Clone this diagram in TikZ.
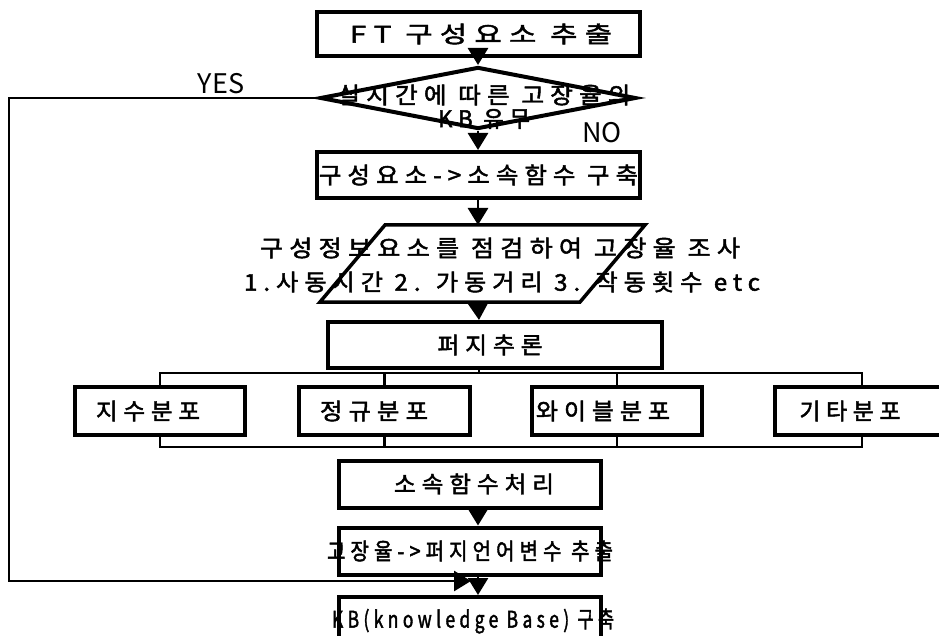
\documentclass[tikz,border=0pt]{standalone}
\usepackage{fontspec}
\usepackage{graphicx}
\newfontfamily\kr[LetterSpace=25,FakeBold=2]{Noto Sans CJK KR}
\newfontfamily\krL{Noto Sans CJK KR}
\newcommand\fitw[2]{\resizebox{#1}{\height}{#2}}
\usetikzlibrary{arrows.meta,shapes.geometric}
\begin{document}
\begin{tikzpicture}[x=1pt,y=-1pt,
  box/.style={draw,line width=4pt,rectangle,inner sep=0pt,font=\kr\fontsize{23}{25}\selectfont},
  txt/.style={inner sep=0pt,font=\kr\fontsize{23}{25}\selectfont},
  conn/.style={line width=2.8pt},
  arr/.style={conn,-{Triangle[length=17pt,width=20pt]}},
  lbl/.style={inner sep=0pt,font=\krL\fontsize{27}{30}\selectfont}]
\useasboundingbox (0,0) rectangle (939,636);
% top box
\node[box,minimum width=323pt,minimum height=44pt] (ft) at (478.5,34) {};
\node[txt] (ftt) at (481,34) {\fitw{262pt}{FT 구성요소 추출}};
% decision
\node[diamond,draw,line width=4pt,inner sep=0pt,minimum width=316pt,minimum height=62pt] (dec) at (478,98) {};
\node[txt] (dect1) at (484,95) {\fitw{293pt}{실시간에 따른 고장율의}};
\node[txt] (dect2) at (484,119) {\fitw{92pt}{KB 유무}};
\node[lbl] (yes) at (221,84) {YES};
\node[lbl] (no) at (602,133) {NO};
% box 2
\node[box,minimum width=323pt,minimum height=46pt] (b2) at (478.5,175) {};
\node[txt] (b2t) at (478.5,175) {\fitw{319pt}{구성요소->소속함수 구축}};
% parallelogram
\coordinate (pTL) at (385,225);
\coordinate (pTR) at (645,225);
\coordinate (pBR) at (580,302);
\coordinate (pBL) at (320,302);
\coordinate (pTop) at (478,225);
\coordinate (pBot) at (478,302);
\draw[line width=3.5pt,line join=miter] (pTL) -- (pTR) -- (pBR) -- (pBL) -- cycle;
\node[txt] (pt1) at (500,248) {\fitw{480pt}{구성정보요소를 점검하여 고장율 조사}};
\node[txt] (pt2) at (502,282) {\fitw{516pt}{1.사동시간 2. 가동거리 3. 작동횟수 etc}};
% fuzzy inference
\node[box,minimum width=334pt,minimum height=46pt] (fz) at (495,345) {};
\node[txt] (fzt) at (490,345) {\fitw{105pt}{퍼지추론}};
\coordinate (fzj) at (479,368);
\coordinate (busT) at (0,373);
\coordinate (busB) at (0,447);
% distributions
\node[box,minimum width=170pt,minimum height=48pt] (d1) at (160,411) {};
\node[txt] (d1t) at (148,411) {\fitw{104pt}{지수분포}};
\node[box,minimum width=171pt,minimum height=48pt] (d2) at (384.5,411) {};
\node[txt] (d2t) at (374,411) {\fitw{108pt}{정규분포}};
\node[box,minimum width=170pt,minimum height=48pt] (d3) at (617,411) {};
\node[txt] (d3t) at (603,411) {\fitw{134pt}{와이블분포}};
\node[box,minimum width=174pt,minimum height=48pt] (d4) at (862,411) {};
\node[txt] (d4t) at (850,411) {\fitw{101pt}{기타분포}};
% lower boxes
\node[box,minimum width=262pt,minimum height=47pt] (sf) at (470,484) {};
\node[txt] (sft) at (474,484) {\fitw{160pt}{소속함수처리}};
\node[box,minimum width=262pt,minimum height=47pt] (gj) at (470,551) {};
\node[txt] (gjt) at (470,551) {\fitw{286pt}{고장율->퍼지언어변수 추출}};
\node[box,minimum width=262pt,minimum height=80pt,anchor=north] (kb) at (470,595) {};
\node[txt] (kbt) at (473,621) {\fitw{282pt}{KB(knowledge Base) 구축}};
\coordinate (fbL1) at (9,98);
\coordinate (fbL2) at (9,581);
\coordinate (fbEnd) at (471,581);
% connectors
\draw[arr] (ft.south -| dec.north) -- (dec.north);
\draw[arr] (dec.south) -- (b2.north -| dec.south);
\draw[arr] (b2.south -| pTop) -- (pTop);
\draw[arr] (pBot) -- (fzj |- fz.north);
\draw[conn] (fzj) -- (fzj |- busT);
\draw[conn] (d1.north) -- (d1.north |- busT) -- (d4.north |- busT) -- (d4.north);
\draw[conn] (d2.north) -- (d2.north |- busT);
\draw[conn] (d3.north) -- (d3.north |- busT);
\draw[conn] (d1.south) -- (d1.south |- busB) -- (d4.south |- busB) -- (d4.south);
\draw[conn] (d2.south) -- (d2.south |- busB);
\draw[conn] (d3.south) -- (d3.south |- busB);
\draw[arr] (sf.south -| pTop) -- (gj.north -| pTop);
\draw[arr] (gj.south -| pTop) -- (kb.north -| pTop);
\draw[arr] (dec.west) -- (fbL1) -- (fbL2) -- (fbEnd);
\end{tikzpicture}
\end{document}
